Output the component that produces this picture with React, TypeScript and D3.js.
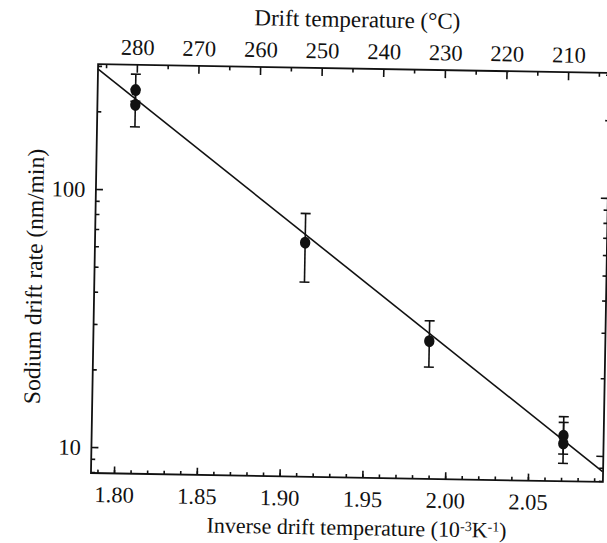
import React, { useRef, useEffect } from 'react';
import * as d3 from 'd3';

// measured points (inverse drift temperature, 10^-3 K^-1) and sodium drift rate (nm/min)
const invTemp = [1.809, 1.809, 1.913, 1.989, 2.071, 2.071];
const driftRate = [243, 213, 64, 27.1, 11.9, 11.1];
const errLow = [220, 175, 45, 21.5, 10.1, 9.3];
const errHigh = [280, 245, 83, 32.5, 14.1, 13.4];

// fitted line end points
const fitX = [1.786, 2.095];
const fitY = [292, 8.7];

// axis ranges and ticks
const xDomain = [1.7861, 2.0953];
const yDomain = [7.93, 304.8];
const topDomain = [286.3, 203.2];
const bottomTicks = [1.80, 1.85, 1.90, 1.95, 2.00, 2.05];
const bottomMinor = d3.range(179, 210).map(d => d / 100);
const topTicks = [280, 270, 260, 250, 240, 230, 220, 210];
const topMinor = [285, 275, 265, 255, 245, 235, 225, 215, 205];
const leftTicks = [10, 100];
const leftMinor = [8, 9, 20, 30, 40, 50, 60, 70, 80, 90, 200, 300];

const W = 607;
const H = 543;
const FONT = '"Liberation Serif", "Times New Roman", serif';
const INK = '#111';

const DriftChart = () => {
  const svgRef = useRef<SVGSVGElement>(null);

  useEffect(() => {
    const svg = d3.select(svgRef.current);
    svg.selectAll('*').remove();

    const margin = { top: 68.5, right: 0.5, bottom: 65.5, left: 94.5 };
    const width = W - margin.left - margin.right;
    const height = H - margin.top - margin.bottom;

    // the scanned figure sits about one degree clockwise
    const root = svg.append('g').attr('transform', 'rotate(1, 350.5, 273)');
    const g = root.append('g').attr('transform', `translate(${margin.left},${margin.top})`);

    const x = d3.scaleLinear().domain(xDomain).range([0, width]);
    const xTop = d3.scaleLinear().domain(topDomain).range([0, width]);
    const y = d3.scaleLog().domain(yDomain).range([height, 0]);

    const style = (sel: any) => {
      sel.select('.domain').remove();
      sel.selectAll('line').attr('stroke', INK).attr('stroke-width', 1.6);
      sel.selectAll('text').attr('fill', INK);
      sel.attr('font-family', FONT).attr('font-size', 22.5);
    };

    // bottom
    g.append('g')
      .attr('transform', `translate(0,${height})`)
      .call(d3.axisBottom(x).tickValues(bottomMinor).tickSize(-3.5).tickFormat(() => ''))
      .call(style);
    const xb = g.append('g')
      .attr('transform', `translate(0,${height})`)
      .call(d3.axisBottom(x).tickValues(bottomTicks).tickSize(-7).tickFormat(d3.format('.2f')))
      .call(style);
    xb.selectAll('text').attr('y', 29).attr('dy', null);

    // top
    g.append('g')
      .call(d3.axisTop(xTop).tickValues(topMinor).tickSize(-4).tickFormat(() => ''))
      .call(style);
    const xt = g.append('g')
      .call(d3.axisTop(xTop).tickValues(topTicks).tickSize(-8).tickFormat(d3.format('d')))
      .call(style);
    xt.selectAll('text').attr('y', -9.8).attr('dy', null);

    // left
    g.append('g')
      .call(d3.axisLeft(y).tickValues(leftMinor).tickSize(-4).tickFormat(() => ''))
      .call(style);
    const yl = g.append('g')
      .call(d3.axisLeft(y).tickValues(leftTicks).tickSize(-7).tickFormat(d3.format('d')))
      .call(style);
    yl.selectAll('text').attr('x', -10.5).attr('dy', '0.34em');

    // right
    g.append('g')
      .attr('transform', `translate(${width},0)`)
      .call(d3.axisRight(y).tickValues(leftMinor).tickSize(-4).tickFormat(() => ''))
      .call(style);
    g.append('g')
      .attr('transform', `translate(${width},0)`)
      .call(d3.axisRight(y).tickValues(leftTicks).tickSize(-7).tickFormat(() => ''))
      .call(style);

    // frame
    g.append('rect')
      .attr('width', width)
      .attr('height', height)
      .attr('fill', 'none')
      .attr('stroke', INK)
      .attr('stroke-width', 1.8);

    // fitted line
    const line = d3.line<number>()
      .x((d, i) => x(fitX[i]))
      .y(d => y(d));
    g.append('path')
      .datum(fitY)
      .attr('d', line)
      .attr('fill', 'none')
      .attr('stroke', INK)
      .attr('stroke-width', 1.6);

    // error bars
    const idx = d3.range(invTemp.length);
    const bars = g.append('g').attr('stroke', INK).attr('stroke-width', 1.6);
    bars.selectAll('line.v')
      .data(idx)
      .enter().append('line')
      .attr('class', 'v')
      .attr('x1', i => x(invTemp[i]))
      .attr('x2', i => x(invTemp[i]))
      .attr('y1', i => y(errLow[i]))
      .attr('y2', i => y(errHigh[i]));
    const caps = idx.flatMap(i => [[i, errLow[i]], [i, errHigh[i]]]);
    bars.selectAll('line.c')
      .data(caps)
      .enter().append('line')
      .attr('class', 'c')
      .attr('x1', d => x(invTemp[d[0]]) - 5)
      .attr('x2', d => x(invTemp[d[0]]) + 5)
      .attr('y1', d => y(d[1]))
      .attr('y2', d => y(d[1]));

    // points
    g.append('g')
      .selectAll('ellipse')
      .data(idx)
      .enter().append('ellipse')
      .attr('cx', i => x(invTemp[i]))
      .attr('cy', i => y(driftRate[i]))
      .attr('rx', 5.2)
      .attr('ry', 6)
      .attr('fill', INK);

    // titles
    root.append('text')
      .attr('x', 353)
      .attr('y', 27)
      .attr('text-anchor', 'middle')
      .attr('font-family', FONT)
      .attr('font-size', 23)
      .attr('fill', INK)
      .text('Drift temperature (°C)');

    const bt = root.append('text')
      .attr('x', 361)
      .attr('y', 535)
      .attr('text-anchor', 'middle')
      .attr('font-family', FONT)
      .attr('font-size', 22)
      .attr('fill', INK);
    bt.append('tspan').text('Inverse drift temperature (10');
    bt.append('tspan').attr('dy', -6).attr('font-size', 14).text('-3');
    bt.append('tspan').attr('dy', 6).text('K');
    bt.append('tspan').attr('dy', -6).attr('font-size', 14).text('-1');
    bt.append('tspan').attr('dy', 6).text(')');

    root.append('text')
      .attr('transform', 'translate(42,282) rotate(-90)')
      .attr('text-anchor', 'middle')
      .attr('font-family', FONT)
      .attr('font-size', 23.5)
      .attr('fill', INK)
      .text('Sodium drift rate (nm/min)');
  }, []);

  return (
    <svg
      ref={svgRef}
      width={W}
      height={H}
      style={{ position: 'absolute', left: 0, top: 0, background: '#fff' }}
    />
  );
};

export default function App() {
  return <DriftChart />;
}
